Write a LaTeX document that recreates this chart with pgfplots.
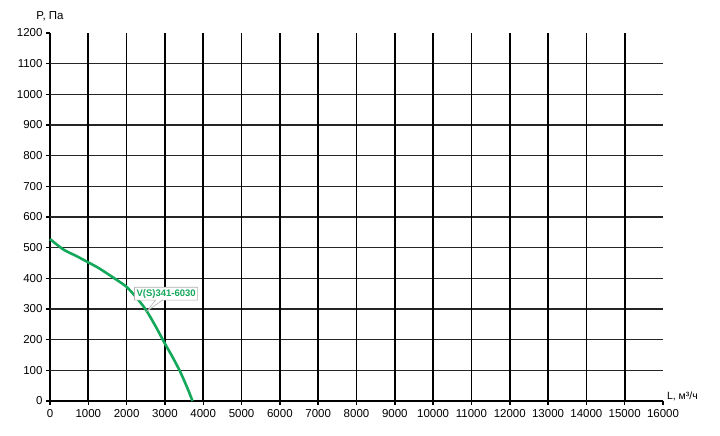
\documentclass[border=0pt]{standalone}
\usepackage{fontspec}
\setmainfont{Liberation Sans}
\usepackage{pgfplots}
\pgfplotsset{compat=1.18}
\usetikzlibrary{shapes.callouts}
\definecolor{curvegreen}{RGB}{20,168,90}
\begin{document}
\begin{tikzpicture}
\path[use as bounding box] (-50bp,-35bp) rectangle (670bp,401bp);
\begin{axis}[
  at={(0,0)}, anchor=south west,
  scale only axis, width=613bp, height=368bp,
  xmin=0, xmax=16000, ymin=0, ymax=1200,
  axis lines*=left,
  axis line style={line width=2.6bp, black},
  xtick={0,1000,...,16000},
  ytick={0,100,...,1200},
  scaled x ticks=false,
  xticklabel style={/pgf/number format/1000 sep={}},
  yticklabel style={/pgf/number format/1000 sep={}},
  /pgf/number format/assume math mode=true,
  tick label style={font=\fontsize{11.5bp}{13bp}\selectfont, black},
  tick align=outside,
  major tick length=4bp,
  tick style={line width=1.5bp, black},
  xticklabel shift=1bp,
  yticklabel shift=0bp,
  clip=false,
]
% horizontal grid lines
\pgfplotsinvokeforeach{100,200,...,1100}{
  \draw[black!85, line width=1.3bp] (axis cs:0,#1) -- (axis cs:16000,#1);
}
% vertical grid lines
\pgfplotsinvokeforeach{1000,2000,...,15000}{
  \draw[black, line width=1.7bp] (axis cs:#1,0) -- (axis cs:#1,1200);
}
\addplot[curvegreen, line width=2.6bp, smooth, tension=0.5] coordinates {
  (0,528) (350,494) (700,472) (1000,452) (1250,435) (1500,415)
  (1800,390) (2000,372) (2250,338) (2500,298) (2750,245)
  (3000,187) (3200,143) (3400,95) (3600,38) (3720,0)
};
\node[rectangle callout, draw=black!30, fill=white, line width=0.6bp,
  inner sep=2bp, text=curvegreen,
  font=\fontsize{9.5bp}{10bp}\selectfont\bfseries,
  callout absolute pointer={(axis cs:2530,293)}]
  at (axis cs:3030,350) {V(S)341-6030};
\node[font=\fontsize{11.5bp}{13bp}\selectfont, anchor=base] at (axis cs:0,1245) {P, Па};
\node[font=\fontsize{10.5bp}{12bp}\selectfont, anchor=base west, inner sep=0pt] at (axis cs:16100,5) {L, м³/ч};
\end{axis}
\end{tikzpicture}
\end{document}
